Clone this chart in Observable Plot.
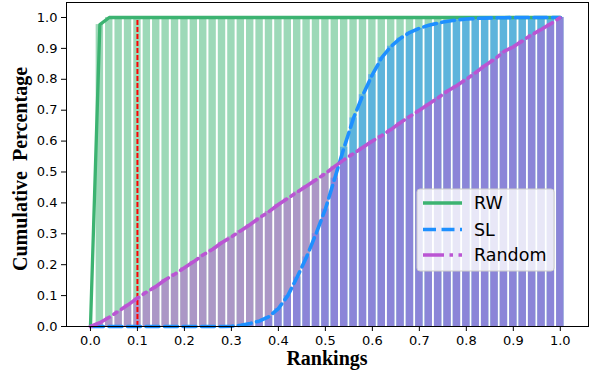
<!DOCTYPE html>
<html><head><meta charset="utf-8">
<script src="https://cdn.jsdelivr.net/npm/d3@7"></script>
<script src="https://cdn.jsdelivr.net/npm/@observablehq/plot@0.6"></script>
<style>body{margin:0;background:#fff}</style>
</head><body><div id="chart"></div>
<script>
const rankings = [0.00,0.02,0.04,0.06,0.08,0.10,0.12,0.14,0.16,0.18,0.20,0.22,0.24,0.26,0.28,0.30,0.32,0.34,0.36,0.38,0.40,0.42,0.44,0.46,0.48,0.50,0.52,0.54,0.56,0.58,0.60,0.62,0.64,0.66,0.68,0.70,0.72,0.74,0.76,0.78,0.80,0.82,0.84,0.86,0.88,0.90,0.92,0.94,0.96,0.98,1.00];
const rwValues = [0,0.977,1,1,1,1,1,1,1,1,1,1,1,1,1,1,1,1,1,1,1,1,1,1,1,1,1,1,1,1,1,1,1,1,1,1,1,1,1,1,1,1,1,1,1,1,1,1,1,1,1];
const slValues = [0,0,0,0,0,0,0,0,0,0,0,0,0,0,0,0.001,0.004,0.01,0.018,0.032,0.058,0.1,0.16,0.225,0.3,0.38,0.48,0.58,0.675,0.75,0.815,0.87,0.907,0.933,0.952,0.965,0.975,0.982,0.988,0.992,0.995,0.997,0.998,0.999,0.999,1,1,1,1,1,1];
const randomValues = [0,0.012,0.03,0.05,0.07,0.092,0.112,0.13,0.152,0.17,0.19,0.21,0.232,0.25,0.272,0.29,0.31,0.33,0.352,0.372,0.395,0.415,0.435,0.455,0.475,0.495,0.518,0.54,0.56,0.58,0.6,0.618,0.638,0.66,0.68,0.7,0.72,0.74,0.762,0.78,0.8,0.822,0.845,0.865,0.89,0.905,0.925,0.945,0.962,0.98,1.0];
const xTicks = [0.0,0.1,0.2,0.3,0.4,0.5,0.6,0.7,0.8,0.9,1.0];
const yTicks = [0.0,0.1,0.2,0.3,0.4,0.5,0.6,0.7,0.8,0.9,1.0];
const seriesNames = ["RW","SL","Random"];
const seriesColors = ["#3cb371","#1e90ff","#ba55d3"];
const threshold = [0.1];

const rows = rankings.map((x,i)=>({x, rw: rwValues[i], sl: slValues[i], rnd: randomValues[i]}));
const half = 0.01;
const bars = (key, color) => Plot.rectY(rows.filter(d=>d[key]>0), {x1: d=>d.x-half, x2: d=>d.x+half, y1: 0, y2: key, fill: color, fillOpacity: 0.5, insetLeft: 1, insetRight: 1});
const dashes = [null, "13,5.5", "21,5.5,3.5,5.5"];

const chart = Plot.plot({
  width: 589, height: 376,
  marginLeft: 66, marginRight: 1, marginTop: 2, marginBottom: 50,
  style: {fontFamily: "DejaVu Sans", fontSize: "13px", color: "black", background: "white"},
  x: {domain: [-0.051, 1.06]},
  y: {domain: [0, 1.0485]},
  marks: [
    bars("rw", seriesColors[0]),
    bars("sl", seriesColors[1]),
    bars("rnd", seriesColors[2]),
    Plot.ruleX(threshold, {y1: 0, y2: 1, stroke: "#ff0000", strokeWidth: 2, strokeDasharray: "5,2"}),
    Plot.line(rows, {x: "x", y: "rw", stroke: seriesColors[0], strokeWidth: 3.3}),
    Plot.line(rows, {x: "x", y: "sl", stroke: seriesColors[1], strokeWidth: 3.6, strokeDasharray: dashes[1]}),
    Plot.line(rows, {x: "x", y: "rnd", stroke: seriesColors[2], strokeWidth: 3.6, strokeDasharray: dashes[2]}),
    Plot.axisX({ticks: xTicks, tickFormat: d3.format(".1f"), tickSize: 5, tickPadding: 4, fontSize: 13, label: null, color: "black"}),
    Plot.axisY({ticks: yTicks, tickFormat: d3.format(".1f"), tickSize: 5, tickPadding: 4, fontSize: 13, label: null, color: "black"}),
    Plot.frame({stroke: "black", strokeWidth: 1})
  ]
});
document.getElementById("chart").appendChild(chart);

const svg = d3.select(chart);
svg.append("text")
  .attr("transform", "translate(27,169) rotate(-90)")
  .attr("text-anchor", "middle")
  .style("white-space", "pre")
  .attr("font-family", "Liberation Serif, serif").attr("font-weight", "bold").attr("font-size", 20)
  .attr("fill", "black")
  .text("Cumulative  Percentage");
svg.append("text")
  .attr("x", 327).attr("y", 365)
  .attr("text-anchor", "middle")
  .attr("font-family", "Liberation Serif, serif").attr("font-weight", "bold").attr("font-size", 20)
  .attr("fill", "black")
  .text("Rankings");

const lg = svg.append("g");
lg.append("rect").attr("x", 417).attr("y", 189).attr("width", 137).attr("height", 82)
  .attr("rx", 3).attr("fill", "white").attr("fill-opacity", 0.8).attr("stroke", "#cccccc");
const lineYs = [203, 229.5, 255];
seriesNames.forEach((name, i) => {
  lg.append("line").attr("x1", 423).attr("x2", 462).attr("y1", lineYs[i]).attr("y2", lineYs[i])
    .attr("stroke", seriesColors[i]).attr("stroke-width", 3.5).attr("stroke-dasharray", dashes[i]);
  lg.append("text").attr("x", 474).attr("y", lineYs[i] + 6.2)
    .attr("text-anchor", "start")
    .attr("font-family", "DejaVu Sans").attr("font-size", 17.5).attr("fill", "black")
    .text(name);
});
</script>
</body></html>
